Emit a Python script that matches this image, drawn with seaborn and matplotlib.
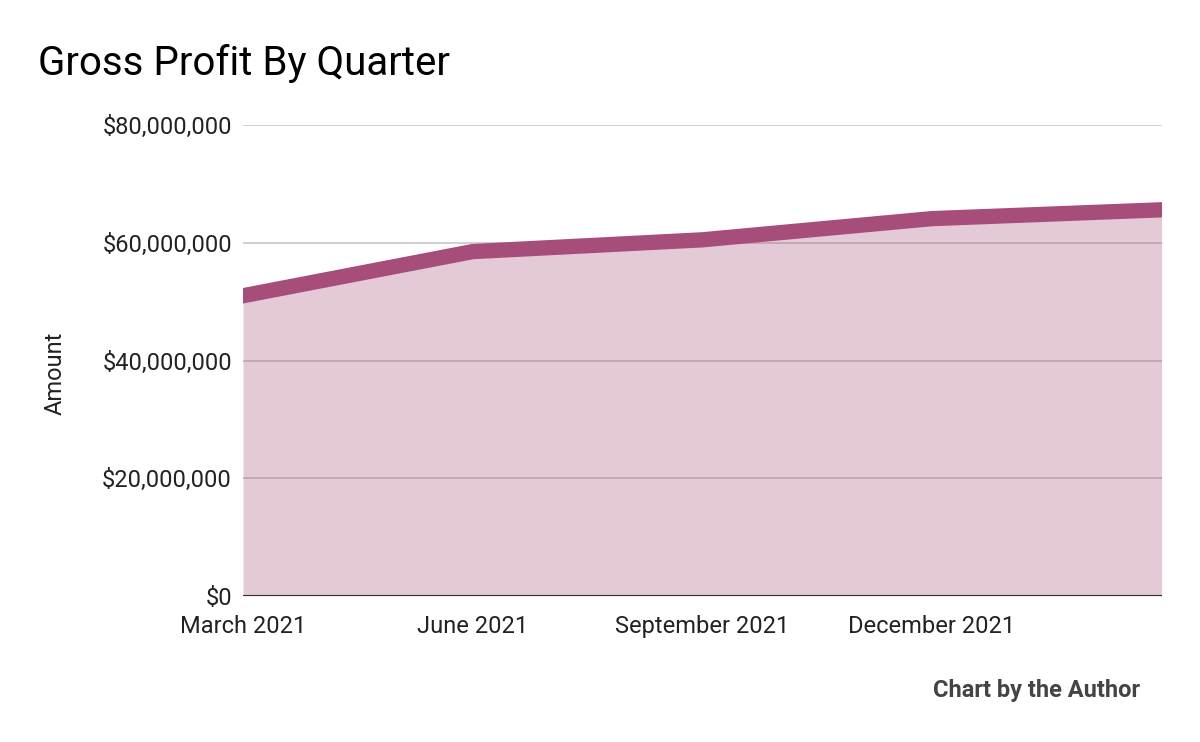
import matplotlib
matplotlib.use("Agg")
import matplotlib.pyplot as plt
import matplotlib.ticker as mticker
import seaborn as sns
import pandas as pd

quarters = ["March 2021", "June 2021", "September 2021", "December 2021", "March 2022"]
tick_labels = ["March 2021", "June 2021", "September 2021", "December 2021", ""]
gross_profit = [51.0e6, 58.5e6, 60.5e6, 64.1e6, 65.6e6]
y_ticks = [0, 20e6, 40e6, 60e6, 80e6]

sns.set_theme(style="white")
plt.rcParams["font.family"] = ["Roboto", "DejaVu Sans"]

df = pd.DataFrame({"pos": range(len(quarters)), "quarter": quarters, "amount": gross_profit})

line_color = "#A64D79"
fig = plt.figure(figsize=(12, 7.42), dpi=100)
ax = fig.add_axes([0.2025, 0.1968, 0.968 - 0.2025, 0.8315 - 0.1968])

ax.set_ylim(0, 80e6)
ax.set_xlim(0, len(quarters) - 1)
ax.set_yticks(y_ticks)
ax.yaxis.set_major_formatter(mticker.FuncFormatter(lambda v, p: f"${v:,.0f}"))
ax.grid(axis="y", color="#CCCCCC", linewidth=1.3, zorder=0)
ax.set_axisbelow(True)

ax.fill_between(df["pos"], df["amount"], 0, color=line_color, alpha=0.3, linewidth=0, zorder=2)
sns.lineplot(data=df, x="pos", y="amount", ax=ax, color=line_color, linewidth=11,
             solid_capstyle="projecting", solid_joinstyle="miter", zorder=3)
ax.axhline(0, color="#333333", linewidth=1.5, zorder=4)

ax.set_xticks(df["pos"])
ax.set_xticklabels(tick_labels)
ax.tick_params(axis="both", labelsize=17, colors="#222222", length=0, pad=8)
ax.tick_params(axis="x", pad=14)
for s in ax.spines.values():
    s.set_visible(False)

ax.set_xlabel("")
ax.set_ylabel("Amount", fontsize=17, color="#222222")
ax.yaxis.set_label_coords(-0.1915, 0.472)

fig.text(0.032, 0.915, "Gross Profit By Quarter", fontsize=29, color="#000000", ha="left", va="center")
fig.text(0.95, 0.07, "Chart by the Author", fontsize=17, fontweight="bold", color="#444444",
         ha="right", va="center")

fig.savefig("out.png", dpi=100, facecolor="white")
